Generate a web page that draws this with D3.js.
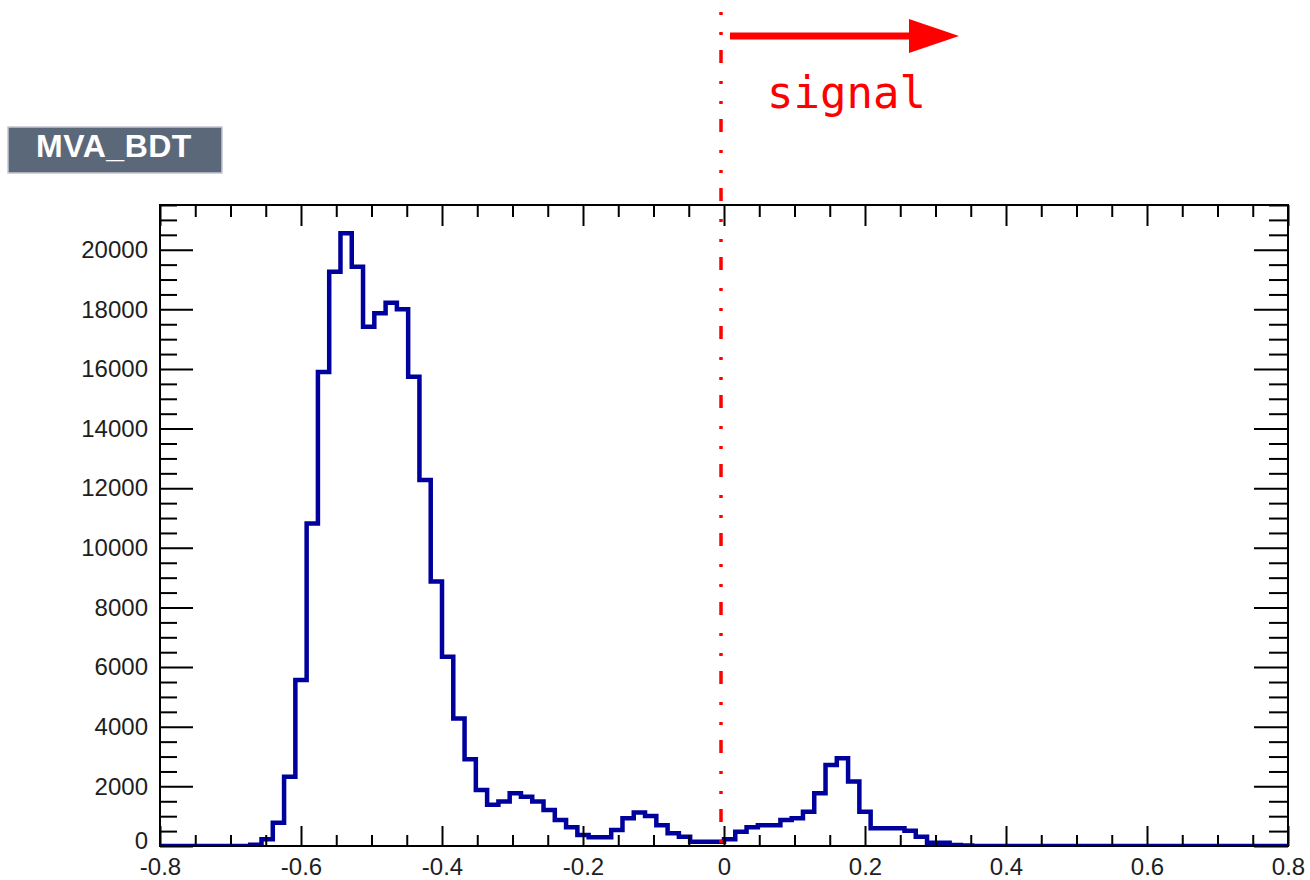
<!DOCTYPE html>
<html>
<head>
<meta charset="utf-8">
<script src="https://cdn.jsdelivr.net/npm/d3@7"></script>
<style>
  html, body { margin: 0; padding: 0; background: #ffffff; }
  svg { display: block; }
</style>
</head>
<body>
<svg id="chart" width="1310" height="880"></svg>
<script>
// Histogram binning of the BDT response
const xMin = -0.8;
const xMax = 0.8;
const nBins = 100;

// Entries per bin (bin width 0.016)
const binCounts = [
  0, 0, 0, 0, 0, 0, 0, 0, 40, 225,
  782, 2325, 5568, 10820, 15900, 19260, 20550, 19430, 17420, 17870,
  18220, 18000, 15740, 12280, 8870, 6350, 4280, 2910, 1880, 1380,
  1490, 1770, 1650, 1490, 1210, 870, 630, 370, 290, 290,
  540, 930, 1120, 1010, 700, 430, 310, 145, 145, 145,
  225, 480, 630, 700, 700, 870, 930, 1150, 1770, 2720,
  2940, 2160, 1150, 595, 595, 595, 510, 310, 110, 110,
  30, 20, 0, 0, 0, 0, 0, 0, 0, 0,
  0, 0, 0, 0, 0, 0, 0, 0, 0, 0,
  0, 0, 0, 0, 0, 0, 0, 0, 0, 0
];

// Axis ticks
const xMajorTicks = [-0.8, -0.6, -0.4, -0.2, 0, 0.2, 0.4, 0.6, 0.8];
const xMinorStep = 0.05;
const yMajorTicks = [0, 2000, 4000, 6000, 8000, 10000, 12000, 14000, 16000, 18000, 20000];
const yMinorStep = 500;
const yMax = 21500;

// Cut position and annotation
const cutValue = 0;
const histTitle = "MVA_BDT";
const cutLabel = "signal";

const svg = d3.select("#chart");
const frame = { left: 160, right: 1288, top: 205, bottom: 846 };

const x = d3.scaleLinear().domain([xMin, xMax]).range([frame.left, frame.right]);
const y = d3.scaleLinear().domain([0, yMax]).range([frame.bottom, frame.top]);

const binWidth = (xMax - xMin) / nBins;
const bins = binCounts.map((c, i) => ({ x0: xMin + i * binWidth, x1: xMin + (i + 1) * binWidth, count: c }));

// Title box
svg.append("rect")
  .attr("x", 8).attr("y", 127).attr("width", 214).attr("height", 46)
  .attr("fill", "#5b687a").attr("stroke", "#c3c8d0").attr("stroke-width", 1.5);
svg.append("text")
  .attr("x", 114).attr("y", 157)
  .attr("text-anchor", "middle")
  .attr("font-family", "Liberation Sans, Arial, sans-serif")
  .attr("font-weight", "bold").attr("font-size", 32)
  .attr("letter-spacing", 0.5)
  .attr("fill", "#ffffff")
  .text(histTitle);

// Clip for the histogram outline
svg.append("defs").append("clipPath").attr("id", "plotClip")
  .append("rect")
  .attr("x", frame.left).attr("y", frame.top)
  .attr("width", frame.right - frame.left).attr("height", frame.bottom - frame.top);

// Step outline
let pathD = `M${x(xMin)},${y(0)}`;
bins.forEach(b => {
  pathD += `L${x(b.x0)},${y(b.count)}L${x(b.x1)},${y(b.count)}`;
});
pathD += `L${x(xMax)},${y(0)}`;

svg.append("path")
  .attr("d", pathD)
  .attr("clip-path", "url(#plotClip)")
  .attr("fill", "none")
  .attr("stroke", "#00009c")
  .attr("stroke-width", 4.5)
  .attr("stroke-linejoin", "miter");

// Frame
svg.append("rect")
  .attr("x", frame.left).attr("y", frame.top)
  .attr("width", frame.right - frame.left).attr("height", frame.bottom - frame.top)
  .attr("fill", "none").attr("stroke", "#000").attr("stroke-width", 2);

const xMinor = d3.range(xMin, xMax + 1e-9, xMinorStep).map(v => +v.toFixed(3))
  .filter(v => !xMajorTicks.some(m => Math.abs(m - v) < 1e-6));
const yMinor = d3.range(0, yMax + 1e-9, yMinorStep)
  .filter(v => !yMajorTicks.includes(v));

const fmtX = d => (Math.abs(d) < 1e-9 ? "0" : String(+d.toFixed(1)));
const labelFont = "Liberation Sans, Arial, sans-serif";

function styleAxis(g) {
  g.select(".domain").remove();
  g.selectAll(".tick line").attr("stroke", "#000").attr("stroke-width", 2);
  g.selectAll("text")
    .attr("font-family", labelFont).attr("font-size", 24).attr("fill", "#1e1e1e");
}

// Bottom axis
svg.append("g").attr("transform", `translate(0,${frame.bottom})`)
  .call(d3.axisBottom(x).tickValues(xMajorTicks).tickFormat(fmtX).tickSize(-20).tickPadding(12))
  .call(styleAxis);
svg.append("g").attr("transform", `translate(0,${frame.bottom})`)
  .call(d3.axisBottom(x).tickValues(xMinor).tickFormat("").tickSize(-11))
  .call(styleAxis);

// Top axis (ticks only)
svg.append("g").attr("transform", `translate(0,${frame.top})`)
  .call(d3.axisTop(x).tickValues(xMajorTicks).tickFormat("").tickSize(-21))
  .call(styleAxis);
svg.append("g").attr("transform", `translate(0,${frame.top})`)
  .call(d3.axisTop(x).tickValues(xMinor).tickFormat("").tickSize(-12))
  .call(styleAxis);

// Left axis
const yAxisG = svg.append("g").attr("transform", `translate(${frame.left},0)`)
  .call(d3.axisLeft(y).tickValues(yMajorTicks).tickFormat(d3.format("d")).tickSize(-33).tickPadding(12))
  .call(styleAxis);
// keep the zero label clear of the x labels below it
yAxisG.selectAll(".tick").filter(d => d === 0).select("text").attr("dy", "0.12em");
svg.append("g").attr("transform", `translate(${frame.left},0)`)
  .call(d3.axisLeft(y).tickValues(yMinor).tickFormat("").tickSize(-17))
  .call(styleAxis);

// Right axis (ticks only)
svg.append("g").attr("transform", `translate(${frame.right},0)`)
  .call(d3.axisRight(y).tickValues(yMajorTicks).tickFormat("").tickSize(-34))
  .call(styleAxis);
svg.append("g").attr("transform", `translate(${frame.right},0)`)
  .call(d3.axisRight(y).tickValues(yMinor).tickFormat("").tickSize(-19))
  .call(styleAxis);

// Cut line
const cutX = x(cutValue) - 3;
svg.append("line")
  .attr("x1", cutX).attr("x2", cutX)
  .attr("y1", 0).attr("y2", frame.bottom)
  .attr("stroke", "#ff0000").attr("stroke-width", 3.5)
  .attr("stroke-dasharray", "13,18,3,17,3,15")
  .attr("stroke-dashoffset", 19);

// Arrow pointing to the signal side
const arrowY = 36;
svg.append("line")
  .attr("x1", cutX + 9).attr("x2", cutX + 192)
  .attr("y1", arrowY).attr("y2", arrowY)
  .attr("stroke", "#ff0000").attr("stroke-width", 7);
svg.append("path")
  .attr("d", `M${cutX + 188},${arrowY - 17}L${cutX + 238},${arrowY}L${cutX + 188},${arrowY + 17}Z`)
  .attr("fill", "#ff0000");

svg.append("text")
  .attr("x", cutX + 46).attr("y", 108)
  .attr("font-family", "DejaVu Sans Mono, monospace")
  .attr("font-size", 44)
  .attr("fill", "#ff0000")
  .text(cutLabel);
</script>
</body>
</html>
